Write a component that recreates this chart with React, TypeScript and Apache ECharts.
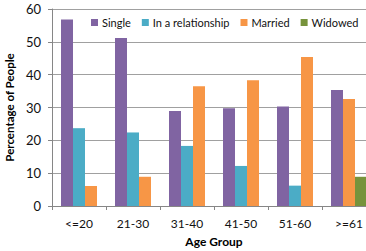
import React, { useEffect, useRef } from "react";
import * as echarts from "echarts";

const categories = ["<=20", "21-30", "31-40", "41-50", "51-60", ">=61"];
const seriesNames = ["Single", "In a relationship", "Married", "Widowed"];
const single = [56.8, 51.2, 28.9, 29.8, 30.3, 35.3];
const relationship = [23.7, 22.4, 18.3, 12.2, 6.2, null];
const married = [6.1, 8.9, 36.5, 38.3, 45.4, 32.6];
const widowed = [null, null, null, null, null, 8.9];
const yTicks = [0, 10, 20, 30, 40, 50, 60];

const colors = ["#8064A2", "#4BACC6", "#F79646", "#77933C"];

export default function App() {
  const ref = useRef<HTMLDivElement>(null);
  useEffect(() => {
    if (!ref.current) return;
    const chart = echarts.init(ref.current, undefined, { renderer: "svg" });
    const all = [single, relationship, married, widowed];
    const font = "Lato, 'Open Sans', sans-serif";
    // slot for each series/category: bars that are present are packed side by side
    const slotOf = (si: number, c: number) => {
      let k = 0;
      for (let j = 0; j < si; j++) if (all[j][c] != null) k++;
      return k;
    };
    const series: any[] = [];
    all.forEach((vals, si) => {
      for (let k = 0; k < 3; k++) {
        const data = categories.map((_, c) =>
          vals[c] != null && slotOf(si, c) === k ? vals[c] : null
        );
        if (data.some((d) => d != null)) {
          series.push({
            type: "bar",
            name: seriesNames[si],
            stack: "slot" + k,
            data,
            barWidth: 12,
            barGap: "0%",
            itemStyle: { color: colors[si] },
          });
        }
      }
    });
    chart.setOption({
      animation: false,
      color: colors,
      textStyle: { fontFamily: font },
      legend: {
        data: seriesNames.map((n, i) => ({ name: n, itemStyle: { color: colors[i] } })),
        icon: "rect",
        itemWidth: 7,
        itemHeight: 7,
        itemGap: 11,
        left: 86,
        top: 12,
        width: 320,
        textStyle: { fontFamily: font, fontSize: 11, color: "#111", padding: [0, 0, 0, -1] },
      },
      grid: { left: 52, top: 9, width: 324, height: 197, outerBoundsMode: "none", containLabel: false },
      xAxis: {
        type: "category",
        data: categories,
        name: "Age Group",
        nameLocation: "middle",
        nameGap: 29,
        nameTextStyle: { fontFamily: font, fontWeight: "bold", fontSize: 12, color: "#000" },
        axisLine: { lineStyle: { color: "#868686" } },
        axisTick: { show: true, length: 4, lineStyle: { color: "#868686" } },
        axisLabel: { fontFamily: font, fontSize: 12, color: "#111", margin: 11 },
      },
      yAxis: {
        type: "value",
        min: yTicks[0],
        max: yTicks[yTicks.length - 1],
        interval: 10,
        name: "Percentage of People",
        nameLocation: "middle",
        nameGap: 29,
        nameTextStyle: { fontFamily: font, fontWeight: "bold", fontSize: 11.5, color: "#000" },
        axisLine: { show: true, lineStyle: { color: "#868686" } },
        axisTick: { show: true, length: 4, lineStyle: { color: "#868686" } },
        axisLabel: { fontFamily: font, fontSize: 13, color: "#111", margin: 11 },
        splitLine: { lineStyle: { color: "#a0a0a0" } },
      },
      series,
    });
    return () => chart.dispose();
  }, []);
  return (
    <div
      ref={ref}
      style={{ position: "fixed", left: 0, top: 0, width: 366, height: 251, background: "#fff" }}
    />
  );
}
